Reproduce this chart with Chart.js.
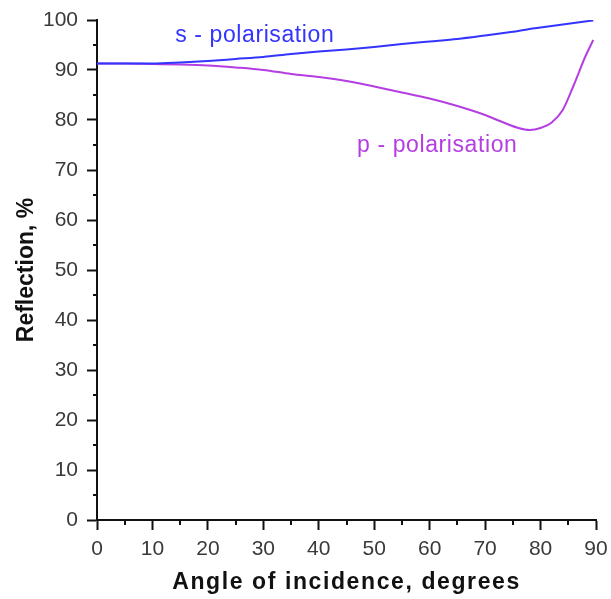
<!DOCTYPE html>
<html>
<head>
<meta charset="utf-8">
<script src="https://cdn.jsdelivr.net/npm/chart.js@4/dist/chart.umd.min.js"></script>
<style>
html,body{margin:0;padding:0;background:#fff;}
#c{display:block;}
</style>
</head>
<body>
<canvas id="c" width="611" height="599"></canvas>
<script>
// ---- data ----
const angles = [0,5,10,15,20,25,30,35,40,45,50,55,60,65,70,72,74,76,78,80,82,84,86,88,89.5];
const sPolarisation = [91.3,91.3,91.3,91.5,91.8,92.2,92.6,93.2,93.7,94.1,94.6,95.2,95.7,96.2,96.9,97.2,97.5,97.8,98.2,98.5,98.8,99.1,99.4,99.7,99.9];
const pPolarisation = [91.3,91.3,91.2,91.1,90.9,90.5,90.0,89.2,88.6,87.8,86.7,85.5,84.3,82.8,81.0,80.1,79.2,78.4,78.0,78.4,79.5,82.0,87.0,92.5,96.0];
const xTicks = [0,10,20,30,40,50,60,70,80,90];
const yTicks = [0,10,20,30,40,50,60,70,80,90,100];
const seriesLabels = ['s - polarisation','p - polarisation'];
const labelAnchors = [{x:14.1,y:96.8},{x:46.9,y:74.8}];
const xTitle = 'Angle of incidence, degrees';
const yTitle = 'Reflection, %';

const BLUE = '#3434ff';
const PURPLE = '#b43ee2';
const FONT = "'Liberation Sans', Arial, sans-serif";

const toPts = (xs, ys) => xs.map((x,i)=>({x:x,y:ys[i]}));

const extras = {
  id:'extras',
  afterUpdate(chart){
    const sc = chart.scales.x;
    if (sc && !sc._wrappedTitle){
      const orig = sc.drawTitle.bind(sc);
      sc.drawTitle = function(){
        const ctx = this.ctx; ctx.save(); ctx.letterSpacing = '1.6px'; orig(); ctx.restore();
      };
      sc._wrappedTitle = true;
    }
  },
  afterDraw(chart){
    const ctx = chart.ctx, xs = chart.scales.x, ys = chart.scales.y;
    const ca = chart.chartArea;
    ctx.save();
    ctx.strokeStyle = '#111'; ctx.lineWidth = 2;
    // minor ticks
    for (let i=0;i<xTicks.length-1;i++){
      const v = (xTicks[i]+xTicks[i+1])/2;
      const px = Math.round(xs.getPixelForValue(v));
      ctx.beginPath(); ctx.moveTo(px, ca.bottom); ctx.lineTo(px, ca.bottom+5); ctx.stroke();
    }
    for (let i=0;i<yTicks.length-1;i++){
      const v = (yTicks[i]+yTicks[i+1])/2;
      const py = Math.round(ys.getPixelForValue(v));
      ctx.beginPath(); ctx.moveTo(ca.left-4, py); ctx.lineTo(ca.left, py); ctx.stroke();
    }
    // series labels
    ctx.font = "23px " + FONT;
    ctx.letterSpacing = '0.6px';
    ctx.textAlign = 'left'; ctx.textBaseline = 'middle';
    const cols = [BLUE, PURPLE];
    labelAnchors.forEach((a,i)=>{
      ctx.fillStyle = cols[i];
      ctx.fillText(seriesLabels[i], xs.getPixelForValue(a.x), ys.getPixelForValue(a.y));
    });
    ctx.restore();
  }
};

new Chart(document.getElementById('c'), {
  type:'line',
  data:{
    datasets:[
      {label:seriesLabels[0], data:toPts(angles,sPolarisation), borderColor:BLUE, borderWidth:2, pointRadius:0, tension:0.4, cubicInterpolationMode:'monotone', fill:false},
      {label:seriesLabels[1], data:toPts(angles,pPolarisation), borderColor:PURPLE, borderWidth:2, pointRadius:0, tension:0.4, cubicInterpolationMode:'monotone', fill:false}
    ]
  },
  options:{
    responsive:false,
    animation:false,
    events:[],
    layout:{padding:{top:20,right:15,left:0,bottom:0}},
    plugins:{legend:{display:false},tooltip:{enabled:false}},
    scales:{
      x:{
        type:'linear', min:0, max:90,
        afterBuildTicks(s){ s.ticks = xTicks.map(v=>({value:v})); },
        afterFit(s){ s.height = 79; s.paddingRight = 0; s.paddingLeft = 0; },
        grid:{drawOnChartArea:false, drawTicks:true, tickLength:10, tickColor:'#111', tickWidth:2},
        border:{display:true, color:'#111', width:2},
        ticks:{color:'#3a3a3a', font:{family:FONT, size:21}, padding:7, maxRotation:0, autoSkip:false},
        title:{display:true, text:xTitle, color:'#111', font:{family:FONT, size:23, weight:'bold'}, padding:{top:0,bottom:3}}
      },
      y:{
        type:'linear', min:0, max:100,
        afterBuildTicks(s){ s.ticks = yTicks.map(v=>({value:v})); },
        afterFit(s){ s.width = 97; s.paddingTop = 0; s.paddingBottom = 0; },
        grid:{drawOnChartArea:false, drawTicks:true, tickLength:10, tickColor:'#111', tickWidth:2},
        border:{display:true, color:'#111', width:2},
        ticks:{color:'#3a3a3a', font:{family:FONT, size:21}, padding:9, autoSkip:false},
        title:{display:true, text:yTitle, color:'#111', font:{family:FONT, size:23, weight:'bold'}, padding:{top:13,bottom:0}}
      }
    }
  },
  plugins:[extras]
});
</script>
</body>
</html>
